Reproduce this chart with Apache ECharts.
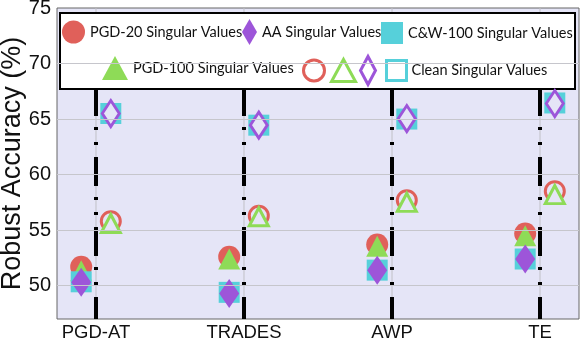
<!DOCTYPE html>
<html>
<head>
<meta charset="utf-8">
<script src="https://cdn.jsdelivr.net/npm/echarts@6/dist/echarts.min.js"></script>
<style>
html,body{margin:0;padding:0;background:#fff;}
#chart{width:580px;height:342px;}
</style>
</head>
<body>
<div id="chart"></div>
<script>
// ---- data ----
const categories = ['PGD-AT', 'TRADES', 'AWP', 'TE'];
const pgd20Adv   = [51.7, 52.6, 53.7, 54.7];
const pgd100Adv  = [51.35, 52.4, 53.55, 54.5];
const cw100Adv   = [50.35, 49.4, 51.4, 52.4];
const aaAdv      = [50.3, 49.3, 51.4, 52.4];
const pgd20Clean  = [55.8, 56.3, 57.7, 58.5];
const pgd100Clean = [55.6, 56.2, 57.5, 58.2];
const cw100Clean  = [65.5, 64.45, 65.0, 66.45];
const aaClean     = [65.5, 64.45, 65.05, 66.4];
const yTicks = [50, 55, 60, 65, 70, 75];
const yRange = [47, 75];

// ---- style ----
const RED = '#e0605a', GREEN = '#8edb57', PURPLE = '#9d55d9', CYAN = '#56d0da';
const BG = '#e5e5f7';
const OFF = 0.1;

const chart = echarts.init(document.getElementById('chart'));

function pts(arr, dx) { return arr.map((v, i) => [i + dx, v]); }

const series = [];

// horizontal grid lines
series.push({
  type: 'line', name: '_grid', data: [], silent: true, z: 1,
  markLine: {
    silent: true, symbol: 'none', label: { show: false },
    lineStyle: { color: '#c6c6cc', width: 1, type: 'solid' },
    data: yTicks.slice(0, -1).map(v => ({ yAxis: v }))
  }
});

// thin vertical lines + dash-dot lines at categories
categories.forEach((c, i) => {
  series.push({
    type: 'line', name: '_vthin' + i, silent: true, symbol: 'none', z: 1,
    data: [[i, yRange[0]], [i, yRange[1]]],
    lineStyle: { color: '#c0c0c6', width: 1 }
  });
  series.push({
    type: 'line', name: '_vdash' + i, silent: true, symbol: 'none', z: 2,
    data: [[i, yRange[0]], [i, yRange[1]]],
    lineStyle: { color: '#000', width: 4, type: [29, 12, 3, 12, 3, 11], dashOffset: 7, cap: 'butt' }
  });
});

// adversarial (filled) markers, left of line
series.push({ type: 'scatter', name: 'PGD-20 Singular Values', symbol: 'circle', symbolSize: 22, z: 3,
  data: pts(pgd20Adv, -OFF), itemStyle: { color: RED, opacity: 1 } });
series.push({ type: 'scatter', name: 'PGD-100 Singular Values', symbol: 'triangle', symbolSize: [22, 21], z: 3,
  data: pts(pgd100Adv, -OFF), itemStyle: { color: GREEN, opacity: 1 } });
series.push({ type: 'scatter', name: 'C&W-100 Singular Values', symbol: 'rect', symbolSize: 21, z: 3,
  data: pts(cw100Adv, -OFF), itemStyle: { color: CYAN, opacity: 1 } });
series.push({ type: 'scatter', name: 'AA Singular Values', symbol: 'diamond', symbolSize: [20, 29], z: 3,
  data: pts(aaAdv, -OFF), itemStyle: { color: PURPLE, opacity: 1 } });

// clean markers, right of line
series.push({ type: 'scatter', name: 'Clean PGD-20 Singular Values', symbol: 'circle', symbolSize: 19, z: 3,
  data: pts(pgd20Clean, OFF), itemStyle: { color: BG, borderColor: RED, borderWidth: 3, opacity: 1 } });
series.push({ type: 'scatter', name: 'Clean PGD-100 Singular Values', symbol: 'triangle', symbolSize: [19, 18], z: 3,
  data: pts(pgd100Clean, OFF), itemStyle: { color: BG, borderColor: GREEN, borderWidth: 3, opacity: 1 } });
series.push({ type: 'scatter', name: 'Clean C&W-100 Singular Values', symbol: 'rect', symbolSize: 21, z: 3,
  data: pts(cw100Clean, OFF), itemStyle: { color: CYAN, opacity: 1 } });
series.push({ type: 'scatter', name: 'Clean AA Singular Values', symbol: 'diamond', symbolSize: [17, 26], z: 3,
  data: pts(aaClean, OFF), itemStyle: { color: BG, borderColor: PURPLE, borderWidth: 3, opacity: 1 } });

const legendText = { fontFamily: 'Lato', fontSize: 14.5, color: '#111' };
function lg(name, icon, w, h, textLeft, cy, itemStyle, text) {
  return {
    show: true, orient: 'horizontal', padding: 0, itemGap: 0,
    left: textLeft - 5 - w, top: cy - h / 2,
    itemWidth: w, itemHeight: h, selectedMode: false,
    textStyle: legendText,
    formatter: () => text,
    data: [{ name: name, icon: icon, itemStyle: itemStyle }]
  };
}
const legends = [
  lg('PGD-20 Singular Values', 'circle', 23, 23, 90, 32, { color: RED, borderWidth: 0 }, 'PGD-20 Singular Values'),
  lg('AA Singular Values', 'diamond', 15, 26, 262, 32, { color: PURPLE, borderWidth: 0 }, 'AA Singular Values'),
  lg('C&W-100 Singular Values', 'rect', 22, 22, 408, 33, { color: CYAN, borderWidth: 0 }, 'C&W-100 Singular Values'),
  lg('PGD-100 Singular Values', 'triangle', 26, 24, 133, 68, { color: GREEN, borderWidth: 0 }, 'PGD-100 Singular Values'),
  lg('Clean PGD-20 Singular Values', 'circle', 21, 21, 328, 69, { color: '#fff', borderColor: RED, borderWidth: 3 }, ''),
  lg('Clean PGD-100 Singular Values', 'triangle', 24, 22, 359, 69, { color: '#fff', borderColor: GREEN, borderWidth: 3 }, ''),
  lg('Clean AA Singular Values', 'diamond', 15, 28, 379, 69, { color: '#fff', borderColor: PURPLE, borderWidth: 3 }, ''),
  lg('Clean C&W-100 Singular Values', 'rect', 20, 20, 410, 69, { color: '#fff', borderColor: CYAN, borderWidth: 3 }, 'Clean Singular Values')
];

const option = {
  animation: false,
  backgroundColor: '#fff',
  grid: { left: 57, right: 1, top: 8, bottom: 23, show: true, backgroundColor: BG, borderColor: '#666', borderWidth: 1,
          containLabel: false, outerBoundsMode: 'none' },
  xAxis: {
    type: 'value', min: -0.2635, max: 3.2635,
    axisLine: { show: false }, axisTick: { show: false }, splitLine: { show: false },
    axisLabel: {
      customValues: categories.map((c, i) => i),
      formatter: v => categories[Math.round(v)] || '',
      fontFamily: 'Liberation Sans', fontSize: 18.5, color: '#111', margin: 4
    }
  },
  yAxis: {
    type: 'value', min: yRange[0], max: yRange[1],
    axisLine: { show: false }, axisTick: { show: false }, splitLine: { show: false },
    axisLabel: { customValues: yTicks, fontFamily: 'Liberation Sans', fontSize: 20, color: '#111', margin: 6 },
    name: 'Robust Accuracy (%)', nameLocation: 'middle', nameGap: 31, nameMoveOverlap: false,
    nameTextStyle: { fontFamily: 'Liberation Sans', fontSize: 27, color: '#111' }
  },
  legend: legends,
  graphic: [{
    type: 'rect', left: 59, top: 12, z: 3,
    shape: { width: 515, height: 76 },
    style: { fill: '#fff', stroke: '#000', lineWidth: 2 }
  }],
  series: series
};
chart.setOption(option);
</script>
</body>
</html>
